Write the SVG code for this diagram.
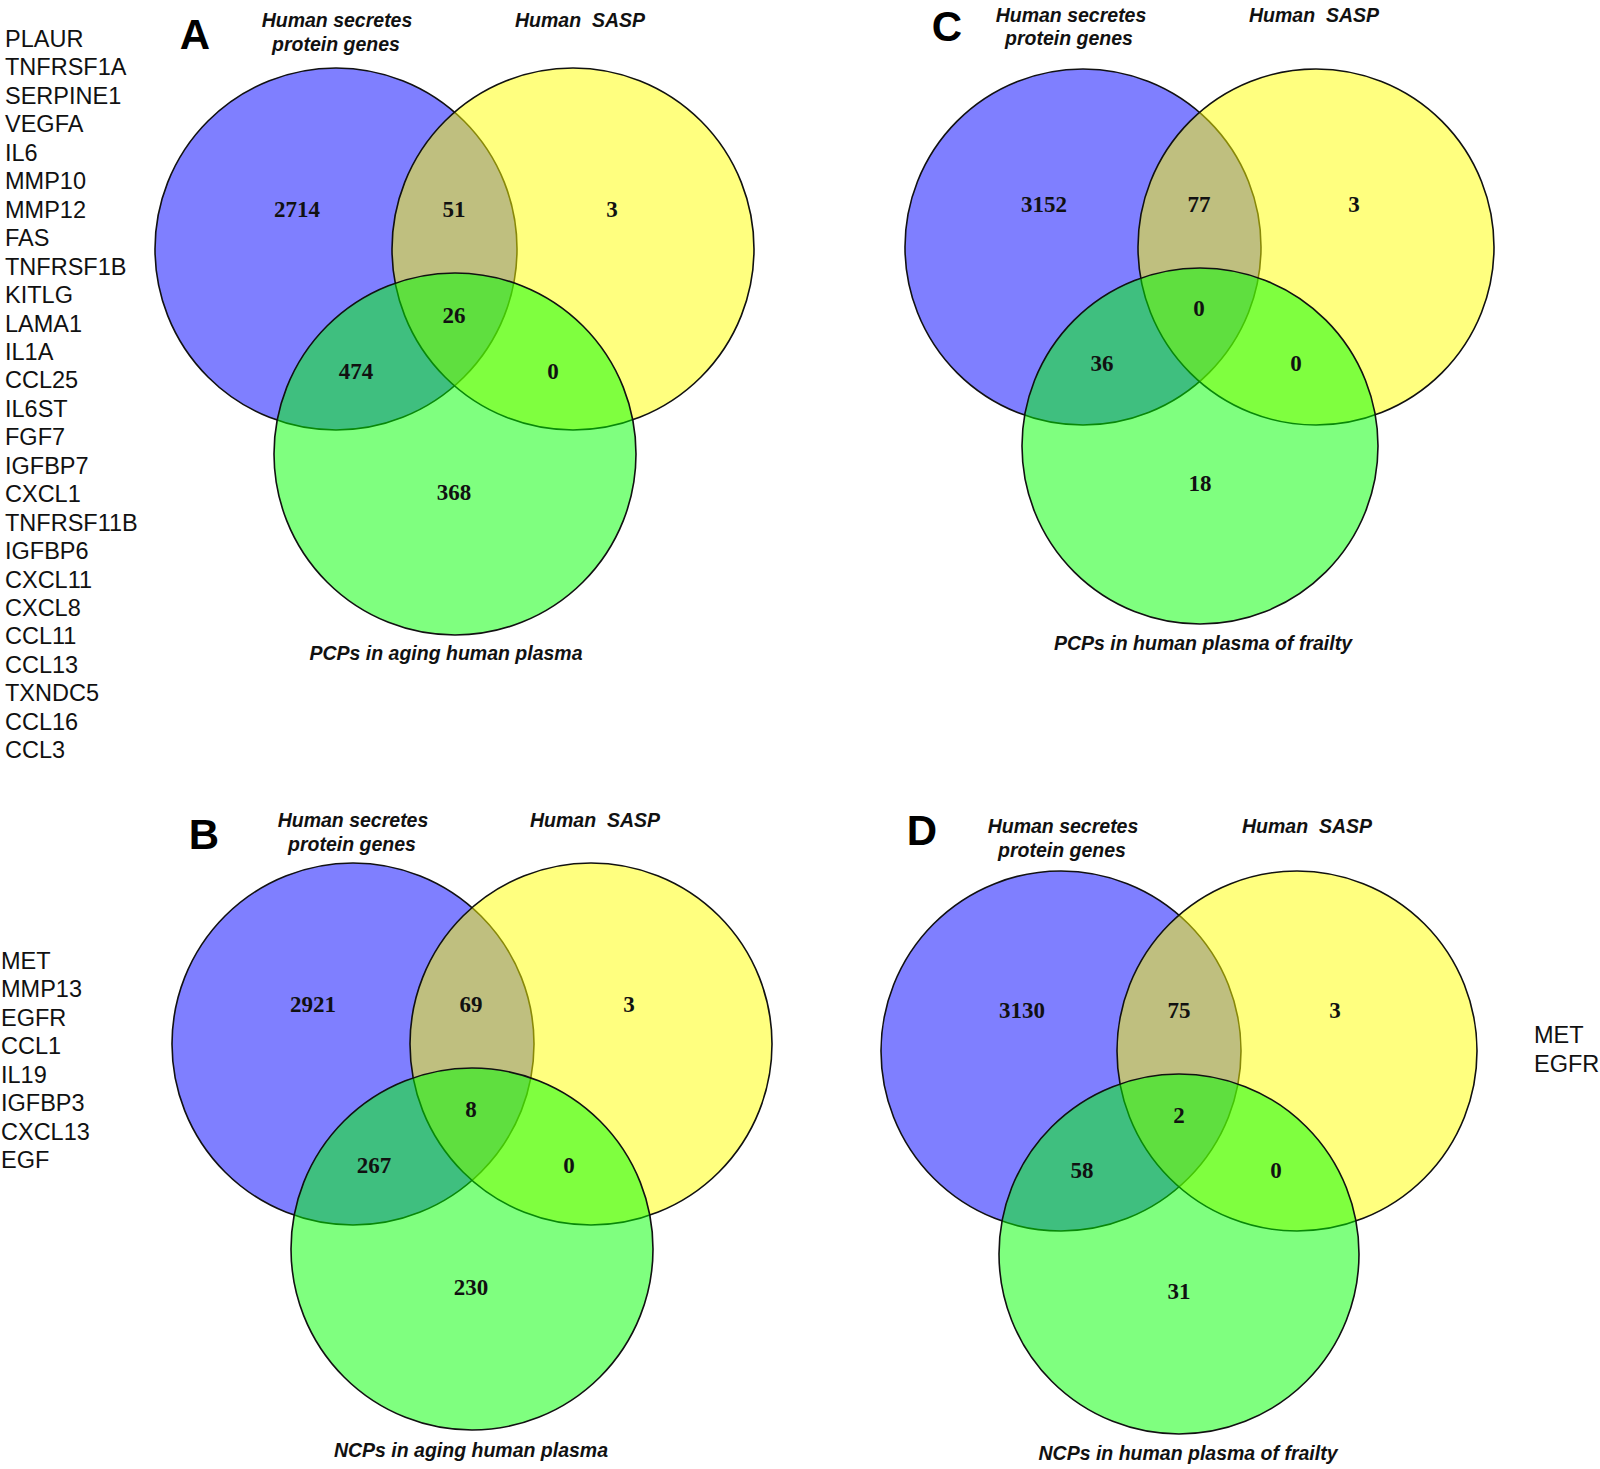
<svg xmlns="http://www.w3.org/2000/svg" width="1600" height="1469" viewBox="0 0 1600 1469">
<style>
.bg{fill:#ffffff}
.c{stroke:#111111;stroke-width:1.6}
.b{fill:#0000ff;fill-opacity:0.5}
.y{fill:#ffff00;fill-opacity:0.5}
.g{fill:#00ff00;fill-opacity:0.5}
.lab{font-family:"Liberation Sans",Arial,sans-serif;font-style:italic;font-weight:bold;font-size:19.5px;fill:#111111;text-anchor:middle}
.num{font-family:"Liberation Serif","Times New Roman",serif;font-weight:bold;font-size:23px;fill:#111111;text-anchor:middle}
.let{font-family:"Liberation Sans",Arial,sans-serif;font-weight:bold;font-size:42px;fill:#000000;text-anchor:middle}
.gene{font-family:"Liberation Sans",Arial,sans-serif;font-size:23.5px;fill:#111111}
</style>
<rect class="bg" x="0" y="0" width="1600" height="1469"/>

<g id="panelA">
  <text class="let" x="195" y="49">A</text>
  <text class="lab" x="337" y="27">Human secretes</text>
  <text class="lab" x="336" y="51">protein genes</text>
  <text class="lab" x="580" y="27">Human&#160; SASP</text>
  <g id="A-secretes"><circle class="c b" cx="336" cy="249" r="181"/></g>
  <g id="A-sasp"><circle class="c y" cx="573" cy="249" r="181"/></g>
  <g id="A-pcps"><circle class="c g" cx="455" cy="454" r="181"/></g>
  <text class="num" x="297" y="217">2714</text>
  <text class="num" x="454" y="217">51</text>
  <text class="num" x="612" y="217">3</text>
  <text class="num" x="454" y="323">26</text>
  <text class="num" x="356" y="379">474</text>
  <text class="num" x="553" y="379">0</text>
  <text class="num" x="454" y="500">368</text>
  <text class="lab" x="446" y="660">PCPs in aging human plasma</text>
</g>

<g id="genesA" class="gene">
  <text x="5" y="47">PLAUR</text>
  <text x="5" y="75.45">TNFRSF1A</text>
  <text x="5" y="103.9">SERPINE1</text>
  <text x="5" y="132.35">VEGFA</text>
  <text x="5" y="160.8">IL6</text>
  <text x="5" y="189.25">MMP10</text>
  <text x="5" y="217.7">MMP12</text>
  <text x="5" y="246.15">FAS</text>
  <text x="5" y="274.6">TNFRSF1B</text>
  <text x="5" y="303.05">KITLG</text>
  <text x="5" y="331.5">LAMA1</text>
  <text x="5" y="359.95">IL1A</text>
  <text x="5" y="388.4">CCL25</text>
  <text x="5" y="416.85">IL6ST</text>
  <text x="5" y="445.3">FGF7</text>
  <text x="5" y="473.75">IGFBP7</text>
  <text x="5" y="502.2">CXCL1</text>
  <text x="5" y="530.65">TNFRSF11B</text>
  <text x="5" y="559.1">IGFBP6</text>
  <text x="5" y="587.55">CXCL11</text>
  <text x="5" y="616">CXCL8</text>
  <text x="5" y="644.45">CCL11</text>
  <text x="5" y="672.9">CCL13</text>
  <text x="5" y="701.35">TXNDC5</text>
  <text x="5" y="729.8">CCL16</text>
  <text x="5" y="758.25">CCL3</text>
</g>

<g id="panelC">
  <text class="let" x="947" y="41">C</text>
  <text class="lab" x="1071" y="22">Human secretes</text>
  <text class="lab" x="1069" y="45">protein genes</text>
  <text class="lab" x="1314" y="22">Human&#160; SASP</text>
  <g id="C-secretes"><circle class="c b" cx="1083" cy="247" r="178"/></g>
  <g id="C-sasp"><circle class="c y" cx="1316" cy="247" r="178"/></g>
  <g id="C-pcps"><circle class="c g" cx="1200" cy="446" r="178"/></g>
  <text class="num" x="1044" y="212">3152</text>
  <text class="num" x="1199" y="212">77</text>
  <text class="num" x="1354" y="212">3</text>
  <text class="num" x="1199" y="316">0</text>
  <text class="num" x="1102" y="371">36</text>
  <text class="num" x="1296" y="371">0</text>
  <text class="num" x="1200" y="491">18</text>
  <text class="lab" x="1203" y="650">PCPs in human plasma of frailty</text>
</g>

<g id="panelB">
  <text class="let" x="204" y="849">B</text>
  <text class="lab" x="353" y="827">Human secretes</text>
  <text class="lab" x="352" y="851">protein genes</text>
  <text class="lab" x="595" y="827">Human&#160; SASP</text>
  <g id="B-secretes"><circle class="c b" cx="353" cy="1044" r="181"/></g>
  <g id="B-sasp"><circle class="c y" cx="591" cy="1044" r="181"/></g>
  <g id="B-ncps"><circle class="c g" cx="472" cy="1249" r="181"/></g>
  <text class="num" x="313" y="1012">2921</text>
  <text class="num" x="471" y="1012">69</text>
  <text class="num" x="629" y="1012">3</text>
  <text class="num" x="471" y="1117">8</text>
  <text class="num" x="374" y="1173">267</text>
  <text class="num" x="569" y="1173">0</text>
  <text class="num" x="471" y="1295">230</text>
  <text class="lab" x="471" y="1457">NCPs in aging human plasma</text>
</g>

<g id="genesB" class="gene">
  <text x="1" y="969">MET</text>
  <text x="1" y="997.45">MMP13</text>
  <text x="1" y="1025.9">EGFR</text>
  <text x="1" y="1054.35">CCL1</text>
  <text x="1" y="1082.8">IL19</text>
  <text x="1" y="1111.25">IGFBP3</text>
  <text x="1" y="1139.7">CXCL13</text>
  <text x="1" y="1168.15">EGF</text>
</g>

<g id="panelD">
  <text class="let" x="922" y="845">D</text>
  <text class="lab" x="1063" y="833">Human secretes</text>
  <text class="lab" x="1062" y="857">protein genes</text>
  <text class="lab" x="1307" y="833">Human&#160; SASP</text>
  <g id="D-secretes"><circle class="c b" cx="1061" cy="1051" r="180"/></g>
  <g id="D-sasp"><circle class="c y" cx="1297" cy="1051" r="180"/></g>
  <g id="D-ncps"><circle class="c g" cx="1179" cy="1254" r="180"/></g>
  <text class="num" x="1022" y="1018">3130</text>
  <text class="num" x="1179" y="1018">75</text>
  <text class="num" x="1335" y="1018">3</text>
  <text class="num" x="1179" y="1123">2</text>
  <text class="num" x="1082" y="1178">58</text>
  <text class="num" x="1276" y="1178">0</text>
  <text class="num" x="1179" y="1299">31</text>
  <text class="lab" x="1188" y="1460">NCPs in human plasma of frailty</text>
</g>

<g id="genesD" class="gene">
  <text x="1534" y="1043">MET</text>
  <text x="1534" y="1071.5">EGFR</text>
</g>
</svg>
